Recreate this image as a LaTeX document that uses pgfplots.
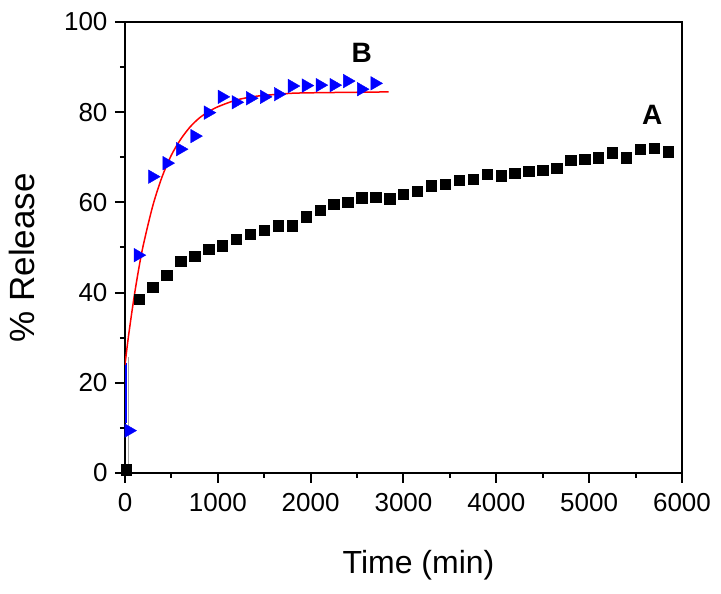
\documentclass[border=0pt]{standalone}
\usepackage{fontspec}
\setmainfont{Liberation Sans}
\usepackage{pgfplots}
\pgfplotsset{compat=1.18}

\begin{document}
\begin{tikzpicture}
  \path[use as bounding box] (-125pt,-121pt) rectangle (596pt,473pt);
  \begin{axis}[
    at={(0,0)}, anchor=south west,
    width=557pt, height=451pt, scale only axis,
    xmin=0, xmax=6000,
    ymin=0, ymax=100,
    xtick={0,1000,...,6000},
    ytick={0,20,...,100},
    minor x tick num=1,
    minor y tick num=1,
    tick align=outside,
    tick pos=left,
    major tick length=10pt,
    minor tick length=5pt,
    axis line style={line width=2pt},
    tick style={black, line width=2pt},
    tick label style={font=\fontsize{26}{30}\selectfont},
    /pgf/number format/assume math mode=true,
    scaled x ticks=false,
    xticklabel style={/pgf/number format/1000 sep=, yshift=-7pt},
    yticklabel style={xshift=-4pt},
    xlabel={Time (min)},
    ylabel={\% Release},
    xlabel style={at={(axis description cs:0.527,-0.204)}, anchor=center,
                  font=\fontsize{32}{36}\selectfont},
    ylabel style={at={(axis description cs:-0.185,0.477)}, anchor=center,
                  font=\fontsize{35}{38}\selectfont},
    ]
    % sample A
    \addplot[only marks, mark=square*, mark size=5.2pt, black]
    coordinates {
      (15,0.7)(150,38.6)(300,41.2)(450,43.9)(600,47.0)(750,48.1)(900,49.6)
      (1050,50.4)(1200,51.9)(1350,53.0)(1500,53.9)(1650,54.8)(1800,54.8)
      (1950,56.8)(2100,58.3)(2250,59.6)(2400,60.0)(2550,61.0)(2700,61.2)
      (2850,60.8)(3000,61.8)(3150,62.5)(3300,63.7)(3450,64.1)(3600,64.9)
      (3750,65.1)(3900,66.2)(4050,65.9)(4200,66.5)(4350,66.9)(4500,67.2)
      (4650,67.6)(4800,69.3)(4950,69.6)(5100,69.9)(5250,71.0)(5400,69.9)
      (5550,71.8)(5700,72.0)(5850,71.2)
    };
    % drop lines near the origin
    \addplot[gray!70, line width=1.5pt] coordinates {(36,0)(36,25.8)};
    \addplot[blue, line width=1.5pt] coordinates {(11,11)(11,24.4)};
    % sample B
    \addplot[only marks, mark=triangle*, mark size=7.8pt, blue,
             mark options={rotate=-90}]
    coordinates {
      (40,9.4)(140,48.3)(295,65.7)(450,68.7)(595,71.8)(750,74.7)(895,79.9)
      (1045,83.4)(1195,82.2)(1350,83.1)(1500,83.4)(1650,84.0)(1800,85.8)
      (1950,85.9)(2100,86.0)(2250,86.0)(2395,86.9)(2545,85.1)(2690,86.4)
    };
    % fitted curve for B
    \addplot[red, line width=1.5pt, smooth]
    coordinates {
      (0,24.0)(25,28.3)(50,32.2)(100,39.3)(150,45.5)(200,50.8)(300,59.3)
      (400,65.7)(500,70.5)(600,74.0)(700,76.7)(800,78.7)(900,80.1)
      (1000,81.2)(1200,82.7)(1400,83.5)(1600,83.9)(1800,84.2)(2000,84.3)
      (2400,84.4)(2840,84.5)
    };
    \node[font=\fontsize{28}{30}\selectfont\bfseries] at (axis cs:2550,93.1) {B};
    \node[font=\fontsize{28}{30}\selectfont\bfseries] at (axis cs:5680,79.4) {A};
  \end{axis}
\end{tikzpicture}
\end{document}
